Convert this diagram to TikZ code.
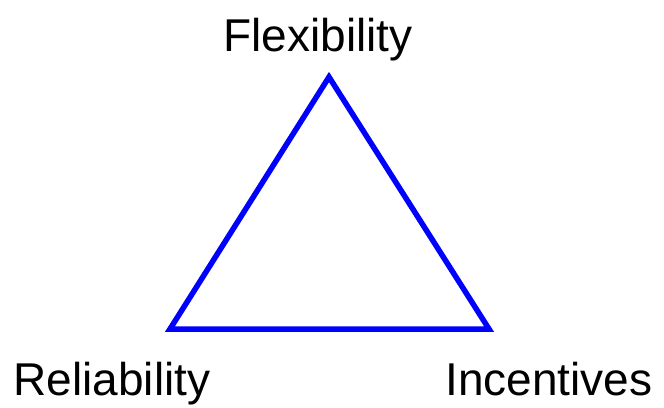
\documentclass[tikz,border=0pt]{standalone}
\usepackage{fontspec}
\setmainfont{Liberation Sans}
\usetikzlibrary{positioning}

\begin{document}
\begin{tikzpicture}[
    x=1pt, y=-1pt,
    % Styles
    corner/.style={font=\fontsize{46}{50}\selectfont, anchor=base, inner sep=0pt},
    side/.style={draw=blue, line width=5.5pt},
]
    \useasboundingbox (0,0) rectangle (664,407);

    % Triangle corners
    \coordinate (top) at (329,77);
    \coordinate (left) at (170,329);
    \coordinate (right) at (489,329);

    % Labels
    \node[corner] (flex) at (318,51) {Flexibility};
    \node[corner] (rel) at (112,395) {Reliability};
    \node[corner] (inc) at (549,395) {Incentives};

    % Sides
    \draw[side] (top) -- (left) -- (right) -- cycle;

\end{tikzpicture}
\end{document}
